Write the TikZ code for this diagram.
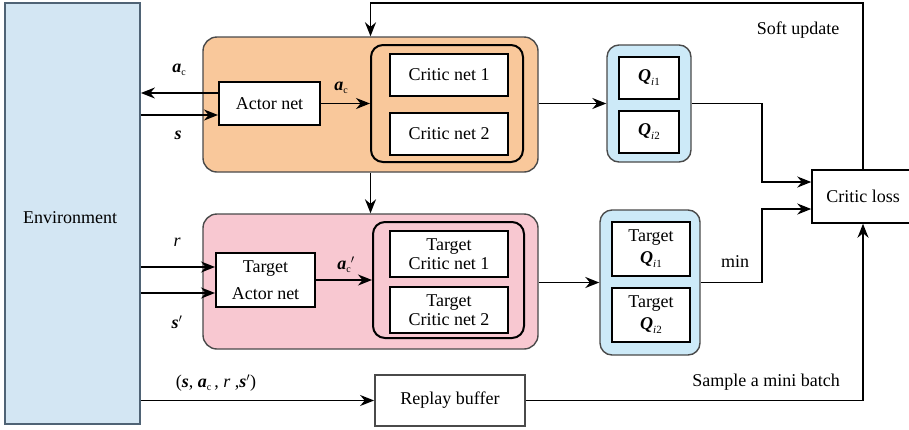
\documentclass[tikz,border=0pt]{standalone}
\usepackage{fontspec}
\setmainfont{Liberation Serif}
\newfontfamily\myserif{Liberation Serif}
\usetikzlibrary{arrows.meta,calc}
\definecolor{envfill}{HTML}{D3E6F3}
\definecolor{envdraw}{HTML}{4F6375}
\definecolor{orfill}{HTML}{F9C89B}
\definecolor{pkfill}{HTML}{F8C8D1}
\definecolor{qfill}{HTML}{CDEAF8}
\definecolor{grayd}{HTML}{4A4A4A}
\newcommand\mysubc{\raisebox{-3pt}{\fontsize{10}{10}\selectfont c}}
\newcommand\myacsym{{\bfseries\itshape a}\mysubc}
\newcommand\myQsym[1]{{\bfseries\itshape Q}\raisebox{-4pt}{\fontsize{11}{11}\selectfont\itshape i\upshape #1}}
\begin{document}
\begin{tikzpicture}[x=1pt,y=-1pt,
  every node/.style={font=\myserif\fontsize{18}{21}\selectfont, inner sep=0pt},
  outer/.style={draw=grayd, line width=1.4pt, rounded corners=14pt},
  inner/.style={draw=black, line width=2pt, rounded corners=12pt},
  netbox/.style={draw=black, line width=2pt, fill=white, align=center},
  arr/.style={-{Stealth[length=14pt,width=11pt]}, line width=1.6pt},
  ln/.style={line width=1.6pt}]
\useasboundingbox (0,0) rectangle (909,429);
% environment
\node[draw=envdraw, fill=envfill, line width=1.8pt, minimum width=135pt, minimum height=421pt] (env) at (72.5,213.5) {};
\node (envt) at (70,218) {Environment};
% orange box
\node[outer, fill=orfill, minimum width=335pt, minimum height=135pt] (orange) at (370.5,104.5) {};
\node[netbox, minimum width=101pt, minimum height=43pt] (actor) at (269.5,103.5) {Actor net};
\node[inner, minimum width=152pt, minimum height=117pt] (cbox) at (447,103.5) {};
\node[netbox, minimum width=118pt, minimum height=42pt] (c1) at (449,75) {Critic net 1};
\node[netbox, minimum width=118pt, minimum height=42pt] (c2) at (449,134) {Critic net 2};
% Q box
\node[outer, fill=qfill, rounded corners=12pt, minimum width=84pt, minimum height=117pt] (qbox) at (649,103.5) {};
\node[netbox, minimum width=60pt, minimum height=42pt] (q1) at (649,78) {\myQsym{1}};
\node[netbox, minimum width=60pt, minimum height=42pt] (q2) at (649,132) {\myQsym{2}};
% critic loss (runs past the right edge)
\node[draw=black, line width=1.5pt, fill=white, minimum width=102pt, minimum height=53pt] (loss) at (863,196.5) {Critic loss};
% pink box
\node[outer, fill=pkfill, minimum width=335pt, minimum height=135pt] (pink) at (370.5,281.5) {};
\node[netbox, minimum width=99pt, minimum height=54pt, font=\myserif\fontsize{18}{27}\selectfont] (tactor) at (265.5,280) {Target\\Actor net};
\node[inner, minimum width=151pt, minimum height=116pt] (tcbox) at (448.5,280) {};
\node[netbox, minimum width=118pt, minimum height=46pt, font=\myserif\fontsize{18}{19}\selectfont] (tc1) at (449,254) {Target\\Critic net 1};
\node[netbox, minimum width=118pt, minimum height=46pt, font=\myserif\fontsize{18}{19}\selectfont] (tc2) at (449,310) {Target\\Critic net 2};
% target Q box
\node[outer, fill=qfill, rounded corners=12pt, minimum width=100pt, minimum height=145pt] (tqbox) at (650,282.5) {};
\node[netbox, minimum width=78pt, minimum height=54pt, font=\myserif\fontsize{18}{22}\selectfont] (tq1) at (651,249) {Target\\\myQsym{1}};
\node[netbox, minimum width=78pt, minimum height=54pt, font=\myserif\fontsize{18}{22}\selectfont] (tq2) at (651,315) {Target\\\myQsym{2}};
% replay buffer
\node[draw=grayd, line width=1.8pt, fill=white, minimum width=150pt, minimum height=51pt] (replay) at (450,400.5) {Replay buffer};
% coordinates
\coordinate (j1) at (762,0);
\coordinate (topl) at (0,3);
% connectors
\draw[arr] ([yshift=10.5pt]actor.west) -- ([yshift=10.5pt]actor.west -| env.east);
\draw[arr] ([yshift=-11.5pt]actor.west -| env.east) -- ([yshift=-11.5pt]actor.west);
\draw[arr] (actor.east) -- (cbox.west |- actor.east);
\draw[arr] (orange.east |- qbox.west) -- (qbox.west);
\draw[arr] (qbox.east) -- (qbox.east -| j1) |- ([yshift=14.5pt]loss.west);
\draw[arr] (tqbox.east) -- (tqbox.east -| j1) |- ([yshift=-12.5pt]loss.west);
\draw[arr] (loss.north) -- (loss.north |- topl) -| (orange.north);
\draw[arr] (orange.south) -- (pink.north);
\draw[arr] ([yshift=13pt]tactor.west -| env.east) -- ([yshift=13pt]tactor.west);
\draw[arr] ([yshift=-13pt]tactor.west -| env.east) -- ([yshift=-13pt]tactor.west);
\draw[arr] (tactor.east) -- (tcbox.west |- tactor.east);
\draw[arr] (pink.east |- tqbox.west) -- (tqbox.west);
\draw[arr] (env.east |- replay.west) -- (replay.west);
\draw[arr] (replay.east) -| (loss.south);
% labels
\node (lac) at (179,70) {\myacsym};
\node (ls) at (178,135) {{\bfseries\itshape s}};
\node (lac2) at (341,88) {\myacsym};
\node (lr) at (177,242) {\itshape r};
\node (lsp) at (177,322) {{\bfseries\itshape s\/}$'$};
\node (lacp) at (346,265) {\myacsym$'$};
\node (lmin) at (735,262) {min};
\node (lsoft) at (798,30) {Soft update};
\node (lsample) at (766,382) {Sample a mini batch};
\node (ltuple) at (216,383) {({\bfseries\itshape s}, \myacsym\,, {\itshape r} ,{\bfseries\itshape s}$'$)};
\end{tikzpicture}
\end{document}
